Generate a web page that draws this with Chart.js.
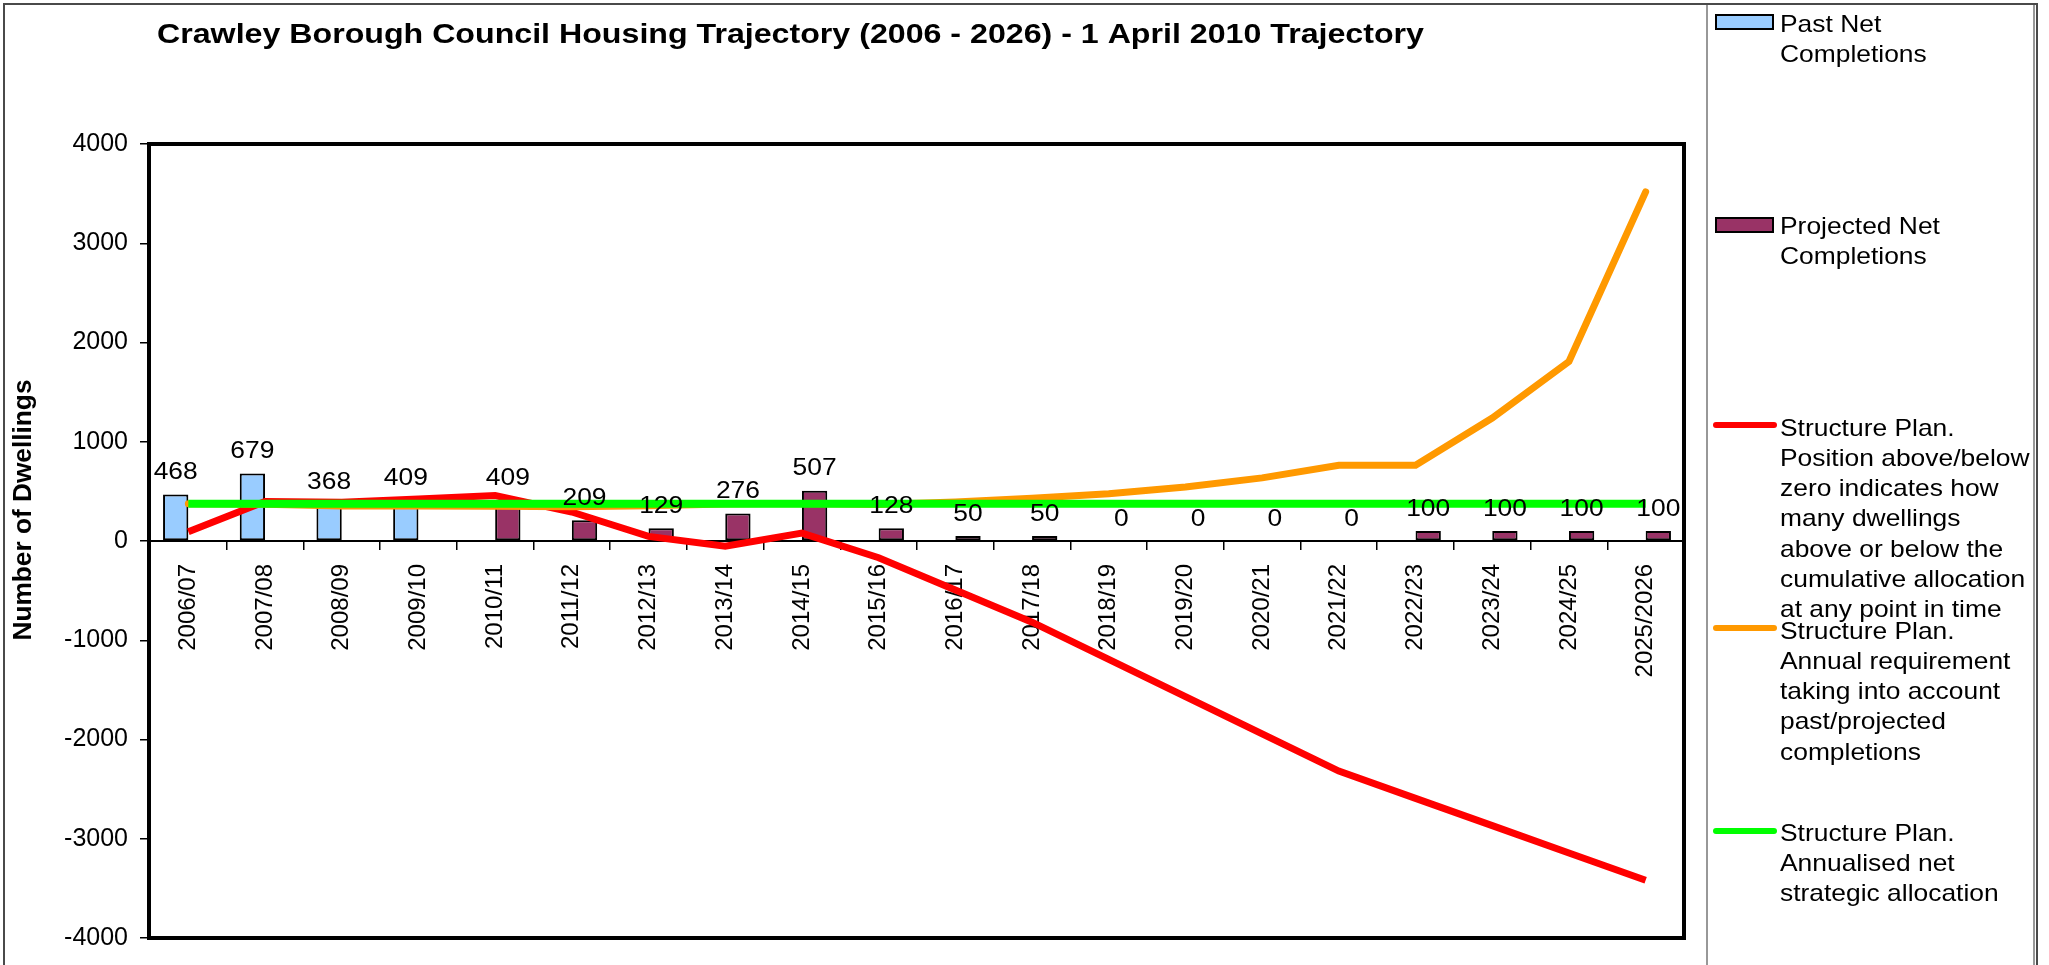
<!DOCTYPE html>
<html>
<head>
<meta charset="utf-8">
<script src="https://cdn.jsdelivr.net/npm/chart.js@4.4.1/dist/chart.umd.min.js"></script>
<style>
html,body{margin:0;padding:0;background:#fff;}
#wrap{width:2049px;height:965px;position:relative;}
canvas{display:block;}
</style>
</head>
<body>
<div id="wrap"><canvas id="c" width="2049" height="965"></canvas></div>
<script>
// ---------------- data ----------------
const categories = ['2006/07','2007/08','2008/09','2009/10','2010/11','2011/12','2012/13','2013/14','2014/15','2015/16',
                    '2016/17','2017/18','2018/19','2019/20','2020/21','2021/22','2022/23','2023/24','2024/25','2025/2026'];
const pastNetCompletions      = [468, 679, 368, 409, null, null, null, null, null, null, null, null, null, null, null, null, null, null, null, null];
const projectedNetCompletions = [null, null, null, null, 409, 209, 129, 276, 507, 128, 50, 50, 0, 0, 0, 0, 100, 100, 100, 100];
const positionAboveBelow      = [93, 397, 390, 424, 458, 292, 46, -53, 79, -168, -493, -818, -1193, -1568, -1943, -2318, -2593, -2868, -3143, -3418];
const annualRequirement       = [375, 370, 353, 352, 349, 345, 354, 372, 379, 368, 392, 430, 477, 545, 636, 764, 764, 1239, 1809, 3518];
const annualisedAllocation    = [375, 375, 375, 375, 375, 375, 375, 375, 375, 375, 375, 375, 375, 375, 375, 375, 375, 375, 375, 375];
const yTickValues = [-4000, -3000, -2000, -1000, 0, 1000, 2000, 3000, 4000];

const chartTitle = 'Crawley Borough Council Housing Trajectory (2006 - 2026) - 1 April 2010 Trajectory';
const yAxisTitle = 'Number of Dwellings';
const legendPast = ['Past Net', 'Completions'];
const legendProjected = ['Projected Net', 'Completions'];
const legendPosition = ['Structure Plan.', 'Position above/below', 'zero indicates how', 'many dwellings', 'above or below the', 'cumulative allocation', 'at any point in time'];
const legendRequirement = ['Structure Plan.', 'Annual requirement', 'taking into account', 'past/projected', 'completions'];
const legendAllocation = ['Structure Plan.', 'Annualised net', 'strategic allocation'];

// ---------------- styles ----------------
const FONT = '"Liberation Sans", Arial, Helvetica, sans-serif';
const C_PAST = '#99CCFF', C_PROJ = '#993366', C_RED = '#FF0000', C_ORANGE = '#FF9900', C_GREEN = '#00FF00';

function stretchedText(ctx, text, x, y, sx, align) {
  ctx.save();
  ctx.translate(x, y);
  ctx.scale(sx, 1);
  ctx.textAlign = align || 'left';
  ctx.fillText(text, 0, 0);
  ctx.restore();
}

const decorPlugin = {
  id: 'decor',
  beforeDraw(chart) {
    const ctx = chart.ctx;
    ctx.save();
    ctx.fillStyle = '#fff';
    ctx.fillRect(0, 0, chart.width, chart.height);
    ctx.strokeStyle = '#4a4a4a';
    ctx.lineWidth = 2;
    ctx.beginPath();
    ctx.moveTo(4, 970); ctx.lineTo(4, 4); ctx.lineTo(2037, 4); ctx.lineTo(2037, 970);
    ctx.stroke();
    ctx.lineWidth = 1.5;
    ctx.strokeStyle = '#777';
    ctx.beginPath();
    ctx.moveTo(1707, 5); ctx.lineTo(1707, 970);
    ctx.moveTo(2034, 5); ctx.lineTo(2034, 970);
    ctx.stroke();
    ctx.restore();
  },
  beforeDatasetsDraw(chart) {
    const {ctx, chartArea: a} = chart;
    ctx.save();
    ctx.strokeStyle = '#000';
    ctx.lineWidth = 4;
    ctx.strokeRect(a.left - 1, a.top, a.right - a.left + 1, a.bottom - a.top);
    ctx.restore();
  },
  afterDatasetsDraw(chart) {
    const ctx = chart.ctx;
    ctx.save();
    ctx.fillStyle = '#000';
    ctx.font = '24px ' + FONT;
    ctx.textBaseline = 'alphabetic';
    [0, 1].forEach(di => {
      const meta = chart.getDatasetMeta(di);
      const vals = chart.data.datasets[di].data;
      meta.data.forEach((el, i) => {
        if (vals[i] === null || vals[i] === undefined) return;
        stretchedText(ctx, String(vals[i]), el.x, el.y - 15.5, 1.1, 'center');
      });
    });
    ctx.restore();
  },
  afterDraw(chart) {
    const ctx = chart.ctx;
    ctx.save();
    ctx.fillStyle = '#000';
    // title
    ctx.font = 'bold 27px ' + FONT;
    ctx.textBaseline = 'alphabetic';
    const tw = ctx.measureText(chartTitle).width;
    stretchedText(ctx, chartTitle, 157, 43, 1267 / tw, 'left');
    // y axis title
    ctx.font = 'bold 25px ' + FONT;
    const yw = ctx.measureText(yAxisTitle).width;
    ctx.save();
    ctx.translate(31, 510);
    ctx.rotate(-Math.PI / 2);
    ctx.scale(261 / yw, 1);
    ctx.textAlign = 'center';
    ctx.fillText(yAxisTitle, 0, 0);
    ctx.restore();

    // legend
    ctx.font = '24px ' + FONT;
    const tx = 1780, sx = 1.1;
    function lines(arr, y0) {
      arr.forEach((t, k) => stretchedText(ctx, t, tx, y0 + 8.5 + k * 30.3, sx, 'left'));
    }
    function barSwatch(color, yc) {
      ctx.fillStyle = color;
      ctx.fillRect(1716, yc - 7, 57, 14);
      ctx.strokeStyle = '#000';
      ctx.lineWidth = 2;
      ctx.strokeRect(1716, yc - 7, 57, 14);
      ctx.fillStyle = '#000';
    }
    function lineSwatch(color, yc) {
      ctx.strokeStyle = color;
      ctx.lineWidth = 6;
      ctx.lineCap = 'round';
      ctx.beginPath();
      ctx.moveTo(1716, yc); ctx.lineTo(1774, yc);
      ctx.stroke();
    }
    barSwatch(C_PAST, 22);
    lines(legendPast, 23);
    barSwatch(C_PROJ, 225);
    lines(legendProjected, 225);
    lineSwatch(C_RED, 425);
    lines(legendPosition, 427);
    lineSwatch(C_ORANGE, 628);
    lines(legendRequirement, 630);
    lineSwatch(C_GREEN, 831);
    lines(legendAllocation, 832);
    ctx.restore();
  }
};

const ctx = document.getElementById('c').getContext('2d');
new Chart(ctx, {
  type: 'bar',
  data: {
    labels: categories,
    datasets: [
      { type: 'bar', label: 'Past Net Completions', data: pastNetCompletions, backgroundColor: C_PAST,
        borderColor: '#000', borderWidth: 2, borderSkipped: false, categoryPercentage: 0.66, barPercentage: 1.0, order: 4 },
      { type: 'bar', label: 'Projected Net Completions', data: projectedNetCompletions, backgroundColor: C_PROJ,
        borderColor: '#000', borderWidth: 2, borderSkipped: false, categoryPercentage: 0.66, barPercentage: 1.0, order: 5 },
      { type: 'line', label: 'Structure Plan. Position above/below zero', data: positionAboveBelow, borderColor: C_RED,
        backgroundColor: C_RED, borderWidth: 7, pointRadius: 0, tension: 0, fill: false, order: 3, borderJoinStyle: 'miter' },
      { type: 'line', label: 'Structure Plan. Annual requirement', data: annualRequirement, borderColor: C_ORANGE,
        backgroundColor: C_ORANGE, borderWidth: 7, pointRadius: 0, tension: 0, fill: false, order: 2, borderCapStyle: 'round' },
      { type: 'line', label: 'Structure Plan. Annualised net strategic allocation', data: annualisedAllocation, borderColor: C_GREEN,
        backgroundColor: C_GREEN, borderWidth: 8, pointRadius: 0, tension: 0, fill: false, order: 1 }
    ]
  },
  options: {
    responsive: false,
    animation: false,
    devicePixelRatio: 1,
    layout: { padding: { top: 144, bottom: 21, left: 0, right: 365 } },
    plugins: { legend: { display: false }, title: { display: false }, tooltip: { enabled: false } },
    scales: {
      x: {
        position: { y: 0 },
        offset: true,
        grid: { display: true, drawOnChartArea: false, drawTicks: true, tickLength: 8, color: '#000', lineWidth: 1.5, offset: true },
        border: { display: true, color: '#000', width: 2 },
        ticks: { autoSkip: false, minRotation: 90, maxRotation: 90, padding: 15, color: '#000', font: { family: FONT, size: 24 } }
      },
      y: {
        min: -4000, max: 4000,
        afterBuildTicks(scale) { scale.ticks = yTickValues.map(v => ({ value: v })); },
        afterFit(scale) { scale.width = 150; },
        grid: { display: true, drawOnChartArea: false, drawTicks: true, tickLength: 10, color: '#000', lineWidth: 1.5 },
        border: { display: false },
        ticks: { padding: 12, color: '#000', font: { family: FONT, size: 25 }, callback: (v) => String(v) }
      }
    }
  },
  plugins: [decorPlugin]
});
</script>
</body>
</html>
